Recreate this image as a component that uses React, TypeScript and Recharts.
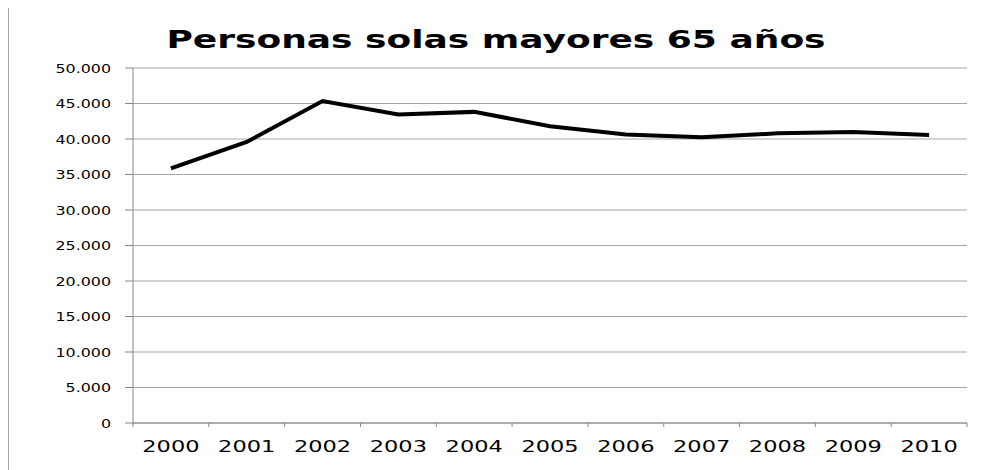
import { LineChart, Line, XAxis, YAxis, CartesianGrid } from "recharts";

const years = ["2000", "2001", "2002", "2003", "2004", "2005", "2006", "2007", "2008", "2009", "2010"];
const personas = [35850, 39580, 45350, 43450, 43820, 41800, 40650, 40230, 40800, 40980, 40580];
const yTicks = [0, 5000, 10000, 15000, 20000, 25000, 30000, 35000, 40000, 45000, 50000];

const FONT = "'DejaVu Sans', Verdana, sans-serif";
const CHART_W = 972;
const PLOT_LEFT = 124;
const PLOT_RIGHT = 14;
const BAND = (CHART_W - PLOT_LEFT - PLOT_RIGHT) / years.length;

// formato español: 50.000
const fmt = (v: number) => (v === 0 ? "0" : v.toLocaleString("de-DE"));

const YTick = (props: any) => {
  const { x, y, payload } = props;
  return (
    <text
      transform={`translate(${x},${y}) scale(1.22,1)`}
      textAnchor="end"
      dy="0.36em"
      fontSize={13}
      fontFamily={FONT}
      fill="#000"
    >
      {fmt(payload.value)}
    </text>
  );
};

// ticks on band edges, label in the middle of each band (como Excel)
const XTick = (props: any) => {
  const { x, y, payload } = props;
  const label = years[payload.value];
  if (!label) return null;
  return (
    <text
      transform={`translate(${x + BAND / 2},${y}) scale(1.5,1)`}
      textAnchor="middle"
      dy="0.71em"
      fontSize={15}
      fontFamily={FONT}
      fill="#000"
    >
      {label}
    </text>
  );
};

export default function App() {
  const data = years.map((year, i) => ({ pos: i + 0.5, year, value: personas[i] }));
  const edgeTicks = years.map((_, i) => i).concat(years.length);

  return (
    <div
      style={{
        position: "relative",
        width: 972,
        height: 462,
        marginTop: -1,
        borderLeft: "1px solid #a6a6a6",
        borderTop: "1px solid #a6a6a6",
        background: "#fff",
      }}
    >
      <div
        style={{
          position: "absolute",
          top: 18,
          left: 487,
          transform: "translateX(-50%) scale(1.5,1)",
          fontFamily: FONT,
          fontWeight: "bold",
          fontSize: 24,
          whiteSpace: "nowrap",
          lineHeight: "28px",
        }}
      >
        Personas solas mayores 65 años
      </div>
      <LineChart
        width={CHART_W}
        height={460}
        data={data}
        margin={{ top: 60, right: PLOT_RIGHT, bottom: 15, left: 0 }}
      >
        <CartesianGrid vertical={false} stroke="#a6a6a6" />
        <XAxis
          dataKey="pos"
          type="number"
          domain={[0, years.length]}
          ticks={edgeTicks}
          height={30}
          stroke="#868686"
          tickSize={4}
          tickMargin={14}
          tick={<XTick />}
          interval={0}
        />
        <YAxis
          width={PLOT_LEFT}
          domain={[0, 50000]}
          ticks={yTicks}
          stroke="#868686"
          tickSize={8}
          tickMargin={14}
          tick={<YTick />}
          interval={0}
        />
        <Line
          type="linear"
          dataKey="value"
          stroke="#000"
          strokeWidth={4}
          dot={false}
          isAnimationActive={false}
        />
      </LineChart>
    </div>
  );
}
